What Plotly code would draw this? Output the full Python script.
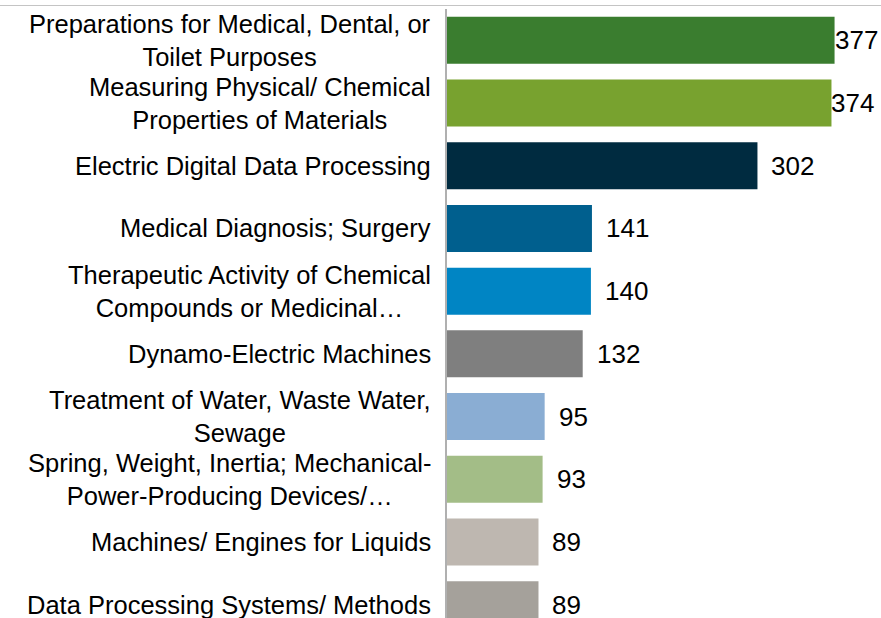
import plotly.graph_objects as go

categories = [
    "Preparations for Medical, Dental, or<br>Toilet Purposes",
    "Measuring Physical/ Chemical<br>Properties of Materials",
    "Electric Digital Data Processing",
    "Medical Diagnosis; Surgery",
    "Therapeutic Activity of Chemical<br>Compounds or Medicinal…",
    "Dynamo-Electric Machines",
    "Treatment of Water, Waste Water,<br>Sewage",
    "Spring, Weight, Inertia; Mechanical-<br>Power-Producing Devices/…",
    "Machines/ Engines for Liquids",
    "Data Processing Systems/ Methods",
]
counts = [377, 374, 302, 141, 140, 132, 95, 93, 89, 89]
colors = ["#3a7d2f", "#78a22f", "#002b40", "#005f8e", "#0085c4",
          "#7f7f7f", "#8aadd3", "#a3bd87", "#beb7b0", "#a5a19b"]

FONT = "Liberation Sans, Arial, sans-serif"
W, H = 881, 618
L, T = 447, 9
step = 62.7  # px per category

fig = go.Figure()
fig.add_trace(go.Bar(
    x=counts, y=categories, orientation="h",
    marker=dict(color=colors, line=dict(width=0)),
    hoverinfo="x+y",
))

# value labels just right of each bar
for c, v in zip(categories, counts):
    fig.add_annotation(x=v, y=c, xref="x", yref="y", text=str(v),
                       xanchor="left", yanchor="middle", showarrow=False,
                       xshift=-2 if v > 350 else 12,
                       font=dict(family=FONT, size=26, color="#000000"))

# category labels, centred lines, right-aligned block
for c in categories:
    fig.add_annotation(x=0, y=c, xref="paper", yref="y", text=c,
                       xanchor="right", yanchor="middle", align="center",
                       showarrow=False, xshift=-14,
                       font=dict(family=FONT, size=25.5, color="#000000"))

# thin frame line across the top of the picture
line_y = 1 + 3.5 / (H - T)
fig.add_shape(type="line", xref="paper", yref="paper", layer="above",
              x0=-L / (W - L), x1=1, y0=line_y, y1=line_y,
              line=dict(color="#c4c4c4", width=1.2))

bottom = (H - T) / step - 0.5
fig.update_layout(
    width=W, height=H,
    margin=dict(l=L, r=0, t=T, b=0, pad=0),
    plot_bgcolor="white", paper_bgcolor="white",
    bargap=0.25, showlegend=False,
    font=dict(family=FONT, size=26, color="#000000"),
    xaxis=dict(range=[0, (W - L) / 1.028], visible=False, fixedrange=True),
    yaxis=dict(type="category", range=[bottom, -0.5], showticklabels=False,
               showgrid=False, zeroline=False, ticks="",
               showline=True, linecolor="#b0b0b0", linewidth=1.5),
)

fig.write_html("out.html", config={"displayModeBar": False},
               post_script="document.body.style.margin='0';")
